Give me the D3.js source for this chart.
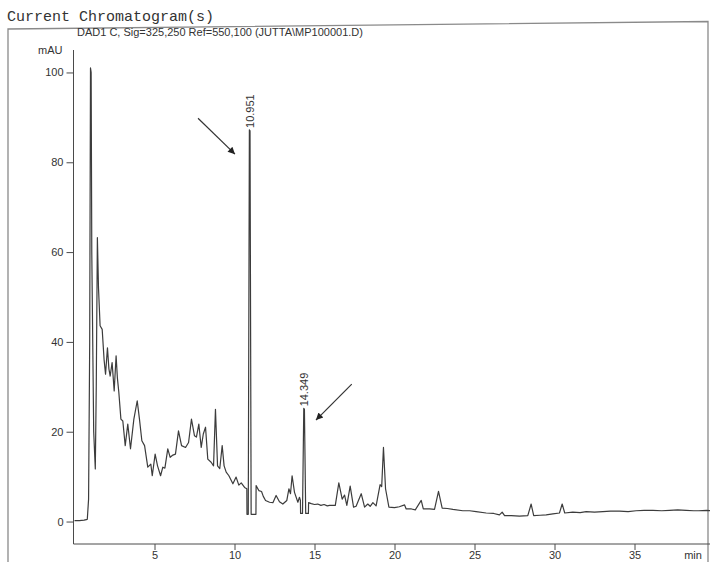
<!DOCTYPE html>
<html>
<head>
<meta charset="utf-8">
<script src="https://cdn.jsdelivr.net/npm/d3@7"></script>
<style>
  html, body { margin: 0; padding: 0; background: #ffffff; }
  svg { display: block; }
  .tick text { font-family: "Liberation Sans", Arial, sans-serif; }
</style>
</head>
<body>
<div id="chart"></div>
<script>
// ---- data ----
const title = "Current Chromatogram(s)";
const signalLabel = "DAD1 C, Sig=325,250 Ref=550,100 (JUTTA\\MP100001.D)";
const yUnit = "mAU";
const xUnit = "min";

// retention time (min)
const times = [
  0.0, 0.3, 0.6, 0.8, 0.88, 0.95, 1.0, 1.04, 1.08, 1.2, 1.3, 1.36, 1.43, 1.5, 1.6, 1.73, 1.85,
  1.94, 2.06, 2.15, 2.23, 2.35, 2.48, 2.6, 2.68, 2.77, 2.9, 3.02, 3.17, 3.33, 3.5, 3.71, 3.92,
  4.06, 4.21, 4.38, 4.58, 4.77, 4.86, 5.04, 5.19, 5.38, 5.52, 5.65, 5.83, 5.98, 6.15, 6.31, 6.5,
  6.69, 6.94, 7.13, 7.31, 7.5, 7.62, 7.77, 7.92, 8.05, 8.19, 8.33, 8.54, 8.69, 8.81, 8.94, 9.08,
  9.23, 9.35, 9.48, 9.65, 9.9, 10.1, 10.27, 10.42, 10.63, 10.77, 10.78, 10.86, 10.93, 10.97, 11.04, 11.34, 11.35,
  11.52, 11.69, 11.8, 11.94, 12.19, 12.4, 12.6, 12.81, 13.02, 13.27, 13.4, 13.5, 13.6, 13.75, 13.96, 14.06,
  14.12, 14.13, 14.25, 14.33, 14.37, 14.45, 14.62, 14.63, 14.8, 15.0, 15.2, 15.4, 15.6, 15.8, 15.94, 16.3, 16.52,
  16.73, 16.88, 17.02, 17.23, 17.44, 17.6, 17.92, 18.13, 18.33, 18.48, 18.65, 18.85, 19.1, 19.2, 19.31, 19.44,
  19.65, 20.0, 20.3, 20.63, 20.73, 21.06, 21.3, 21.67, 21.8, 22.19, 22.5, 22.75, 22.98, 23.3, 23.65, 24.27,
  24.7, 25.1, 25.73, 26.2, 26.56, 26.73, 26.88, 27.3, 27.81, 28.33, 28.54, 28.7, 29.1, 29.48, 29.9, 30.31,
  30.48, 30.64, 31.14, 31.6, 31.98, 32.5, 33.02, 33.5, 34.06, 34.6, 35.1, 35.6, 36.15, 36.7, 37.19, 37.7, 38.23, 38.7, 39.0, 39.5, 40.0
];
// absorbance (mAU)
const absorbance = [
  0.2, 0.2, 0.3, 0.5, 5, 40, 101, 100, 60, 20, 11.7, 30, 63.2, 52, 43.6, 42.8, 36,
  32.8, 38.7, 34, 32.4, 35.4, 29.1, 36.9, 32, 28.8, 22.8, 22.4, 16.9, 21.7, 16.2, 22.8, 26.9,
  22.8, 18, 16.9, 12.1, 12.8, 10.2, 15.0, 12.4, 10.2, 12.1, 11.9, 16.2, 14.3, 14.8, 15.0, 20.2,
  16.9, 16.5, 17.6, 22.8, 19.1, 18.8, 21.7, 16.5, 19.5, 21.0, 13.9, 13.2, 12.4, 25, 12.4, 11.8,
  16.9, 12.4, 11, 10.2, 8.4, 9.9, 8.1, 8.6, 7.6, 7.3, 1.6, 1.6, 87.2, 87, 1.6, 1.6, 8.0,
  6.9, 6.7, 5.6, 4.7, 4.3, 4.2, 5.8, 4.4, 3.9, 4.7, 7.3, 6.2, 10.2, 6.5, 4.3, 5.4,
  4.7, 1.8, 1.8, 25.2, 25, 1.8, 1.8, 4.2, 4.0, 3.8, 3.9, 3.6, 3.8, 3.5, 3.6, 3.6, 8.6,
  5.0, 5.9, 3.6, 7.9, 3.2, 3.4, 6.2, 3.2, 3.9, 3.4, 4.2, 3.5, 8.2, 7.8, 16.5, 7.3,
  3.2, 3.1, 3.3, 3.7, 2.8, 2.8, 2.6, 4.7, 2.8, 2.8, 2.7, 6.7, 3.0, 2.9, 2.7, 2.4,
  2.4, 2.2, 1.9, 1.8, 1.5, 2.1, 1.3, 1.3, 1.2, 1.3, 3.9, 1.3, 1.4, 1.5, 1.7, 1.9,
  3.9, 1.9, 2.1, 2.0, 2.2, 2.1, 2.2, 2.3, 2.3, 2.2, 2.4, 2.5, 2.5, 2.4, 2.5, 2.6, 2.5, 2.4, 2.4, 2.5, 2.3
];

// labelled peaks (retention time, height)
const peakTimes = [10.951, 14.349];
const peakHeights = [87.2, 25.2];
const peakLabels = ["10.951", "14.349"];

// annotation arrows: start (t, mAU) -> tip (t, mAU)
const arrowFromT = [7.72, 17.33];
const arrowFromV = [89.8, 30.6];
const arrowToT = [10.03, 15.09];
const arrowToV = [81.8, 22.6];

// axes
const xDomain = [0, 40];
const yDomain = [-5, 105];
const xMajorTicks = [5, 10, 15, 20, 25, 30, 35];
const xMinorTicks = d3.range(1, 40, 1);
const yMajorTicks = [0, 20, 40, 60, 80, 100];
const yMinorTicks = d3.range(-5, 106, 5);

// ---- drawing ----
const W = 710, H = 562;
const svg = d3.select("#chart").append("svg").attr("width", W).attr("height", H);
svg.append("rect").attr("width", W).attr("height", H).attr("fill", "#ffffff");

const x = d3.scaleLinear().domain(xDomain).range([74.5, 714.5]);
const y = d3.scaleLinear().domain(yDomain).range([544, 50]);

const ink = "#4a4a4a";
const font = '"Liberation Sans", Arial, sans-serif';

// frame (print border)
svg.append("path")
  .attr("d", "M8,562 L8,29 L708,21.5 L708,562")
  .attr("fill", "none").attr("stroke", "#8a8a8a").attr("stroke-width", 1.3);

// title
svg.append("text").attr("x", 7).attr("y", 21)
  .attr("font-family", '"Liberation Mono", "DejaVu Sans Mono", monospace')
  .attr("font-size", 15).attr("fill", "#333").text(title);

svg.append("text").attr("x", 77).attr("y", 35.5)
  .attr("font-family", font).attr("font-size", 11).attr("fill", "#333").text(signalLabel);

// y axis
const yAxisG = svg.append("g").attr("transform", `translate(${x(0) - 1},0)`);
yAxisG.call(d3.axisLeft(y).tickValues(yMinorTicks).tickSize(3.5).tickFormat(""));
yAxisG.call(d3.axisLeft(y).tickValues(yMajorTicks).tickSize(7).tickPadding(3).tickFormat(d3.format("d")))
  .call(g => g.selectAll(".tick text").attr("font-size", 11).attr("fill", "#333"));
yAxisG.selectAll("path, line").attr("stroke", ink);
yAxisG.selectAll(".domain").attr("d", `M0,${y(yDomain[1])}V${y(yDomain[0])}`);
yAxisG.append("text").attr("x", -11).attr("y", y(105)).attr("dy", "0.35em")
  .attr("text-anchor", "end").attr("font-family", font).attr("font-size", 11)
  .attr("fill", "#333").text(yUnit);

// x axis
const xAxisG = svg.append("g").attr("transform", `translate(0,${y(yDomain[0])})`);
xAxisG.call(d3.axisBottom(x).tickValues(xMinorTicks).tickSize(4).tickFormat(""));
xAxisG.call(d3.axisBottom(x).tickValues(xMajorTicks).tickSize(6).tickPadding(1).tickFormat(d3.format("d")))
  .call(g => g.selectAll(".tick text").attr("font-size", 11).attr("fill", "#333"));
xAxisG.selectAll("path, line").attr("stroke", ink);
xAxisG.selectAll(".domain").attr("d", `M${x(0) - 1},0H${W}`);
xAxisG.append("text").attr("x", 693).attr("y", 14.8).attr("font-family", font)
  .attr("font-size", 11).attr("fill", "#333").text(xUnit);

// chromatogram trace
const pts = times.map((t, i) => [t, absorbance[i]]);
const line = d3.line().x(d => x(d[0])).y(d => y(d[1]));
svg.append("path").datum(pts).attr("d", line)
  .attr("fill", "none").attr("stroke", "#3c3c3c").attr("stroke-width", 1.2)
  .attr("stroke-linejoin", "round");

// peak labels
peakTimes.forEach((t, i) => {
  svg.append("text")
    .attr("transform", `translate(${x(t)},${y(peakHeights[i]) - 2}) rotate(-90)`)
    .attr("dy", "0.35em")
    .attr("font-family", font).attr("font-size", 11).attr("fill", "#333")
    .text(peakLabels[i]);
});

// arrows
const defs = svg.append("defs");
defs.append("marker").attr("id", "ah").attr("viewBox", "0 0 10 10")
  .attr("refX", 10).attr("refY", 5).attr("markerWidth", 9).attr("markerHeight", 7)
  .attr("markerUnits", "userSpaceOnUse").attr("orient", "auto")
  .append("path").attr("d", "M0,0 L10,5 L0,10 Z").attr("fill", "#222");
arrowFromT.forEach((t, i) => {
  svg.append("line")
    .attr("x1", x(t)).attr("y1", y(arrowFromV[i]))
    .attr("x2", x(arrowToT[i])).attr("y2", y(arrowToV[i]))
    .attr("stroke", "#333").attr("stroke-width", 1.2).attr("marker-end", "url(#ah)");
});
</script>
</body>
</html>
